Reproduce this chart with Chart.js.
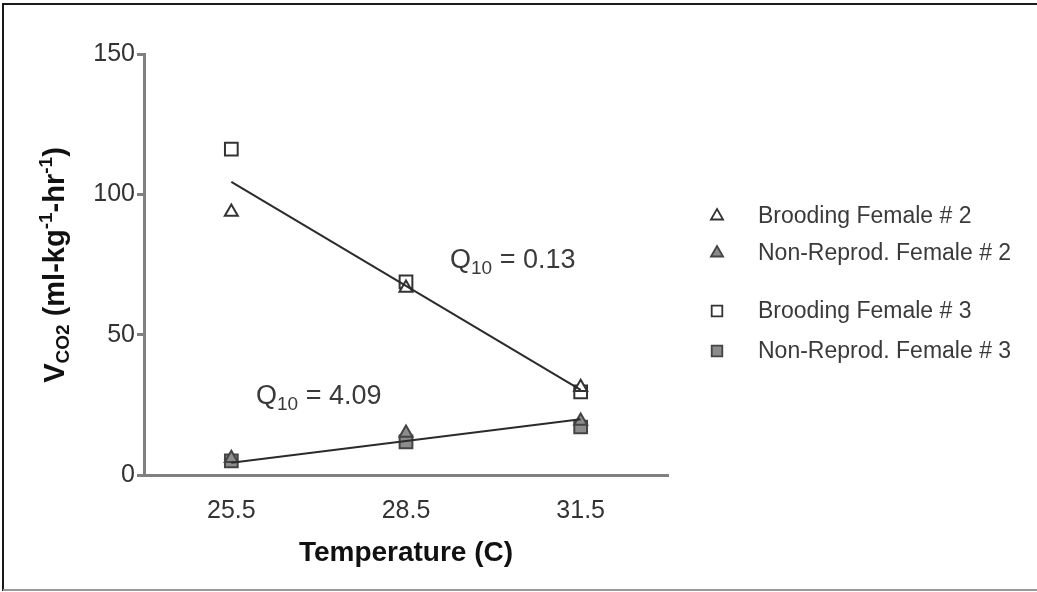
<!DOCTYPE html>
<html>
<head>
<meta charset="utf-8">
<title>VCO2 vs temperature</title>
<script src="https://cdn.jsdelivr.net/npm/chart.js@4.4.1/dist/chart.umd.min.js"></script>
<style>
  html, body { margin: 0; padding: 0; background: #fff; }
  #wrap { position: relative; width: 1037px; height: 592px; }
</style>
</head>
<body>
<div id="wrap"><canvas id="chart" width="1037" height="592"></canvas></div>
<script>
'use strict';

// measured values, ml CO2 per kg per hour
const temps = [25.5, 28.5, 31.5];
const broodingF2 = [93.7, 66.6, 31.3];
const nonReprodF2 = [6.0, 15.0, 19.2];
const broodingF3 = [116.1, 68.8, 29.6];
const nonReprodF3 = [5.0, 11.8, 17.1];

// fitted lines, value at 25.5 and 31.5
const fitTemps = [25.5, 31.5];
const broodingFit = [104.4, 30.3];
const nonReprodFit = [4.4, 19.9];

const xTicks = [25.5, 28.5, 31.5];
const yTicks = [0, 50, 100, 150];
const seriesNames = ['Brooding Female # 2', 'Non-Reprod. Female # 2', 'Brooding Female # 3', 'Non-Reprod. Female # 3'];
const q10Values = ['0.13', '4.09'];

const FONT = 'Arial, "Liberation Sans", Helvetica, sans-serif';
const INK = '#333333';
const AXIS = '#808080';
const GREY_FILL = '#8c8c8c';

let canvasElem = document.getElementById('chart');

function pairs(xs, ys) {
  return xs.map((x, i) => ({ x: x, y: ys[i] }));
}

const markerStyles = [
  { pointStyle: 'triangle', radius: 7.5, fill: '#ffffff', border: '#333333' },
  { pointStyle: 'triangle', radius: 7.5, fill: GREY_FILL, border: '#444444' },
  { pointStyle: 'rect', radius: 9, fill: '#ffffff', border: '#333333' },
  { pointStyle: 'rect', radius: 9, fill: GREY_FILL, border: '#444444' },
];

// draws a run of text pieces (size, baseline shift, weight) starting at x
function drawRuns(ctx, runs, x, y, align) {
  let total = 0;
  runs.forEach(r => {
    ctx.font = (r.bold ? 'bold ' : '') + r.size + 'px ' + FONT;
    r.w = ctx.measureText(r.t).width;
    total += r.w;
  });
  let cx = align === 'center' ? x - total / 2 : x;
  ctx.textAlign = 'left';
  ctx.textBaseline = 'alphabetic';
  runs.forEach(r => {
    ctx.font = (r.bold ? 'bold ' : '') + r.size + 'px ' + FONT;
    ctx.fillText(r.t, cx, y + (r.dy || 0));
    cx += r.w;
  });
}

const decorations = {
  id: 'decorations',
  beforeDraw(chart) {
    const ctx = chart.ctx;
    ctx.save();
    ctx.fillStyle = '#ffffff';
    ctx.fillRect(0, 0, chart.width, chart.height);
    ctx.restore();
  },
  afterDraw(chart) {
    const ctx = chart.ctx;
    ctx.save();

    // frame round the figure
    ctx.lineWidth = 2;
    ctx.strokeStyle = '#1a1a1a';
    ctx.beginPath();
    ctx.moveTo(3, 591);
    ctx.lineTo(3, 4);
    ctx.lineTo(1037, 4);
    ctx.stroke();
    ctx.strokeStyle = '#9a9a9a';
    ctx.beginPath();
    ctx.moveTo(3, 590);
    ctx.lineTo(1037, 590);
    ctx.stroke();

    ctx.fillStyle = '#111111';
    // x axis title
    drawRuns(ctx, [{ t: 'Temperature (C)', size: 28, bold: true }], 406, 561, 'center');

    // y axis title, rotated
    ctx.save();
    ctx.translate(64, 265);
    ctx.rotate(-Math.PI / 2);
    drawRuns(ctx, [
      { t: 'V', size: 29, bold: true },
      { t: 'CO2', size: 19, bold: true, dy: 5 },
      { t: ' (ml-kg', size: 29, bold: true },
      { t: '-1', size: 19, bold: true, dy: -12 },
      { t: '-hr', size: 29, bold: true },
      { t: '-1', size: 19, bold: true, dy: -12 },
      { t: ')', size: 29, bold: true },
    ], 0, 0, 'center');
    ctx.restore();

    // Q10 annotations
    ctx.fillStyle = '#3a3a3a';
    drawRuns(ctx, [
      { t: 'Q', size: 27 }, { t: '10', size: 19, dy: 6 }, { t: ' = ' + q10Values[0], size: 27 },
    ], 450, 268, 'left');
    drawRuns(ctx, [
      { t: 'Q', size: 27 }, { t: '10', size: 19, dy: 6 }, { t: ' = ' + q10Values[1], size: 27 },
    ], 256, 404, 'left');

    // legend
    const rowsY = [216, 253, 311, 351];
    seriesNames.forEach((name, i) => {
      const m = markerStyles[i];
      ctx.fillStyle = m.fill;
      ctx.strokeStyle = m.border;
      ctx.lineWidth = 1.8;
      Chart.helpers.drawPoint(ctx, {
        pointStyle: m.pointStyle,
        radius: m.pointStyle === 'rect' ? 7.5 : 7,
        rotation: 0,
        borderWidth: 1.8,
      }, 717, rowsY[i]);
      ctx.fillStyle = '#3a3a3a';
      ctx.font = '23px ' + FONT;
      ctx.textAlign = 'left';
      ctx.textBaseline = 'middle';
      ctx.fillText(name, 758, rowsY[i] + 1);
    });

    ctx.restore();
  },
};

function markerSet(label, xs, ys, style) {
  return {
    label: label,
    data: pairs(xs, ys),
    showLine: false,
    pointStyle: style.pointStyle,
    pointRadius: style.radius,
    pointBackgroundColor: style.fill,
    pointBorderColor: style.border,
    pointBorderWidth: 2,
  };
}

function fitSet(label, ys) {
  return {
    label: label,
    data: pairs(fitTemps, ys),
    showLine: true,
    borderColor: '#2b2b2b',
    borderWidth: 2,
    pointRadius: 0,
    fill: false,
  };
}

function renderChart() {
  let data = {
    datasets: [
      fitSet('Brooding fit', broodingFit),
      fitSet('Non-reproductive fit', nonReprodFit),
      markerSet(seriesNames[0], temps, broodingF2, markerStyles[0]),
      markerSet(seriesNames[1], temps, nonReprodF2, markerStyles[1]),
      markerSet(seriesNames[2], temps, broodingF3, markerStyles[2]),
      markerSet(seriesNames[3], temps, nonReprodF3, markerStyles[3]),
    ],
  };

  let config = {
    type: 'scatter',
    data: data,
    options: {
      responsive: false,
      animation: false,
      devicePixelRatio: 1,
      layout: { padding: { top: 54, right: 369, left: 0, bottom: 0 } },
      plugins: { legend: { display: false }, tooltip: { enabled: false } },
      scales: {
        x: {
          type: 'linear',
          min: 24,
          max: 33,
          afterBuildTicks: s => { s.ticks = xTicks.map(v => ({ value: v })); },
          afterFit: s => { s.height = 117; },
          ticks: {
            font: { family: FONT, size: 25 },
            color: INK,
            padding: 13,
            callback: v => v.toFixed(1),
          },
          grid: { display: false },
          border: { display: true, color: AXIS, width: 3 },
        },
        y: {
          type: 'linear',
          min: 0,
          max: 150,
          afterBuildTicks: s => { s.ticks = yTicks.map(v => ({ value: v })); },
          afterFit: s => { s.width = 144; },
          ticks: {
            font: { family: FONT, size: 25 },
            color: INK,
            padding: 2,
          },
          grid: {
            display: true,
            drawOnChartArea: false,
            drawTicks: true,
            tickLength: 7,
            color: AXIS,
            lineWidth: 3,
          },
          border: { display: true, color: AXIS, width: 3 },
        },
      },
    },
    plugins: [decorations],
  };

  new Chart(canvasElem, config);
}

renderChart();
</script>
</body>
</html>
